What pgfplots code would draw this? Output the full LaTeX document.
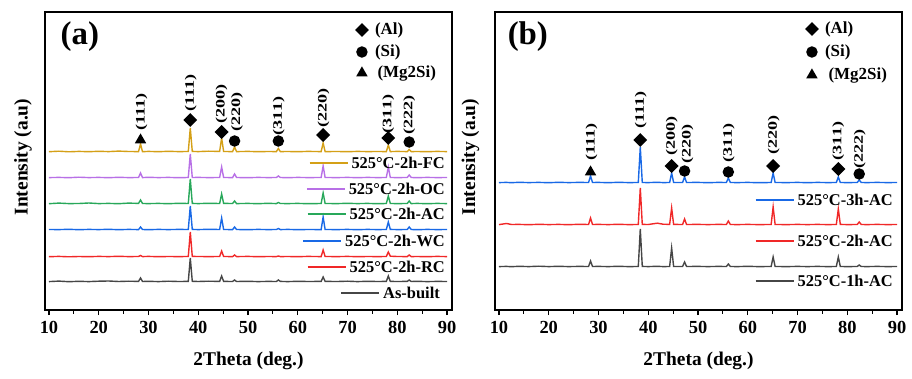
\documentclass[border=0pt]{standalone}
\usepackage{fontspec}
\setmainfont{Liberation Serif}
\usepackage{pgfplots}
\usepackage{pgfplotstable}
\usepackage{graphicx}
\pgfplotsset{compat=1.18}
\definecolor{cfc}{RGB}{212,160,23}
\definecolor{coc}{RGB}{184,112,230}
\definecolor{cac}{RGB}{40,168,90}
\definecolor{cwc}{RGB}{25,105,230}
\definecolor{crc}{RGB}{240,40,40}
\definecolor{cab}{RGB}{70,70,70}

\pgfplotstableread{
x     fc   oc   ac   wc   rc   ab
10    0.3  0.4  0.3  0.5  0.3  0.4
12    0.8  0.6  0.9  0.4  0.6  0.9
14    0.2  0.3  0.4  0.7  0.2  0.3
16    0.6  0.8  0.5  0.3  0.5  0.7
18    0.3  0.4  1.0  0.6  0.3  0.4
20    0.7  0.6  0.4  0.4  0.6  0.8
22    0.4  0.3  0.6  0.7  0.4  1.0
24    0.9  0.7  0.3  0.3  0.7  0.5
26    0.5  0.4  0.9  0.6  0.4  0.8
28.0  0.4  0.5  0.6  0.4  0.5  0.6
28.4  8.0  5.0  4.0  3.0  1.5  4.0
28.8  0.3  0.4  0.5  0.5  0.4  0.5
30    0.6  0.7  0.4  0.3  0.6  0.7
32    0.3  0.4  0.6  0.6  0.3  0.4
34    0.7  0.6  0.3  0.4  0.5  0.8
36    0.4  0.3  0.7  0.6  0.4  0.5
38.0  0.5  0.5  0.5  0.5  0.5  0.6
38.4  24   24   25   24   25   24
38.8  0.6  0.5  0.6  0.6  0.6  0.7
40    0.4  0.6  0.4  0.4  0.5  0.5
42    0.8  0.4  0.7  0.7  0.4  0.8
44.3  0.6  0.5  0.5  0.5  0.5  0.6
44.7  14   11   10   12   6    6
45.1  0.5  0.5  0.6  0.5  0.5  0.6
46.9  0.4  0.4  0.5  0.4  0.4  0.5
47.3  5.0  4.0  3.0  3.0  2.0  2.0
47.7  0.4  0.5  0.4  0.5  0.4  0.5
50    0.6  0.3  0.6  0.3  0.6  0.7
52    0.3  0.6  0.3  0.6  0.3  0.4
54    0.5  0.4  0.7  0.4  0.5  0.6
55.7  0.4  0.5  0.4  0.5  0.4  0.5
56.1  3.5  2.0  1.5  1.5  1.0  2.0
56.5  0.4  0.5  0.5  0.4  0.4  0.6
58    0.5  0.3  0.4  0.6  0.5  0.4
60    0.3  0.6  0.6  0.3  0.3  0.7
62    0.6  0.4  0.3  0.5  0.6  0.5
64.7  0.4  0.5  0.5  0.4  0.4  0.6
65.1  9    12   11   13   7    5
65.5  0.4  0.5  0.5  0.5  0.5  0.6
68    0.5  0.4  0.4  0.4  0.4  0.5
70    0.3  0.6  0.7  0.6  0.6  0.8
72    0.6  0.3  0.4  0.3  0.3  0.4
74    0.4  0.6  0.6  0.6  0.5  0.7
76    0.5  0.4  0.3  0.4  0.4  0.5
77.8  0.4  0.5  0.5  0.5  0.5  0.6
78.2  7    11   8    8    5    6
78.6  0.4  0.5  0.5  0.6  0.8  0.6
80    0.6  0.4  0.4  0.4  0.5  0.5
82.0  0.4  0.5  0.5  0.5  0.4  0.6
82.4  2.5  3.0  3.0  3.0  2.0  2.0
82.8  0.4  0.5  0.4  0.5  0.4  0.5
84    0.5  0.3  0.6  0.3  0.5  0.7
86    0.3  0.6  0.3  0.6  0.3  0.4
88    0.6  0.4  0.6  0.4  0.6  0.6
90    0.4  0.5  0.4  0.5  0.4  0.5
}\tabA

\pgfplotstableread{
x     b3   b2   b1
10    0.4  0.4  0.4
11.5  0.6  1.5  0.6
12.5  0.3  0.5  0.3
14    0.7  0.6  0.7
16    0.4  0.3  0.4
18    0.6  0.7  0.8
20    0.3  0.4  0.4
22    0.7  0.6  0.7
24    0.4  0.3  0.4
26    0.6  0.7  0.6
28.0  0.5  0.5  0.5
28.4  7    7    6
28.8  0.5  0.5  0.5
30    0.6  0.6  0.6
32    0.3  0.4  0.4
34    0.7  0.7  0.7
36    0.4  0.4  0.4
38.0  0.5  0.5  0.5
38.4  36   37   38
38.8  0.5  0.6  0.6
40    0.4  0.5  0.4
41.8  0.7  1.8  0.7
43    0.4  0.8  0.4
44.3  0.5  0.6  0.5
44.7  10   17   19
45.1  0.5  0.6  0.5
46.9  0.5  0.5  0.5
47.3  6    6    5
47.7  0.5  0.5  0.5
50    0.6  0.6  0.6
52    0.3  0.4  0.4
54    0.6  0.6  0.6
55.7  0.5  0.5  0.5
56.1  5    4    3
56.5  0.5  0.5  0.5
58    0.4  0.4  0.4
60    0.6  0.6  0.7
62    0.3  0.4  0.4
64.7  0.5  0.5  0.5
65.1  10   18   10
65.5  0.5  0.5  0.5
68    0.4  0.4  0.4
70    0.6  0.6  0.6
72    0.3  0.4  0.4
74    0.6  0.6  0.6
76    0.4  0.4  0.4
77.8  0.5  0.5  0.5
78.2  6    16   10
78.6  0.5  0.6  0.5
80    0.4  0.4  0.4
82.0  0.5  0.5  0.5
82.4  3    3    2
82.8  0.5  0.5  0.5
84    0.4  0.4  0.4
86    0.6  0.6  0.6
88    0.4  0.4  0.4
90    0.5  0.5  0.5
}\tabB

\pgfplotsset{
  xrdaxis/.style={
    width=407bp, height=298bp, scale only axis,
    xmin=9.2, xmax=91, ymin=0, ymax=298,
    xtick={10,20,...,90}, minor x tick num=1,
    xtick pos=bottom, tick align=outside,
    ytick=\empty,
    major tick length=5bp, minor tick length=3.5bp,
    every tick/.style={black, line width=1.2bp},
    axis line style={line width=1.5bp},
    tick label style={font=\fontsize{18.5}{18.5}\selectfont\bfseries},
    xticklabel style={yshift=-2.5bp},
    /pgf/number format/assume math mode=true,
    label style={font=\fontsize{19.5}{19.5}\selectfont\bfseries},
    xlabel={2Theta (deg.)},
    ylabel={Intensity (a.u)},
    xlabel style={at={(axis description cs:0.5,-0.172)}, anchor=center},
    clip=false,
    every axis plot/.append style={line width=1.4bp},
  },
}
\tikzset{
  pk/.style={rotate=90, font=\fontsize{13}{13}\selectfont\bfseries, inner sep=0pt},
  lg/.style={anchor=east, inner sep=0pt, font=\fontsize{16.5}{16.5}\selectfont\bfseries},
  mk/.style={anchor=west, inner sep=0pt, font=\fontsize{17}{17}\selectfont\bfseries},
}
\newcommand{\pl}[1]{\scalebox{1.4}[1]{#1}}
\newcommand{\ls}[1]{\textcolor{#1}{\rule[0.3em]{38bp}{1.5bp}}\hspace{4bp}}

\begin{document}
\begin{tikzpicture}
\useasboundingbox (0,0) rectangle (912bp,379bp);
% ---------------- (a)
\begin{axis}[xrdaxis, at={(45bp,69bp)}, anchor=south west,
  ylabel style={at={(axis description cs:-0.054,0.513)}, anchor=center}]
\addplot[cab, no marks] table[x=x, y expr=\thisrow{ab}+28] {\tabA};
\addplot[crc, no marks] table[x=x, y expr=\thisrow{rc}+53] {\tabA};
\addplot[cwc, no marks] table[x=x, y expr=\thisrow{wc}+80] {\tabA};
\addplot[cac, no marks] table[x=x, y expr=\thisrow{ac}+106] {\tabA};
\addplot[coc, no marks] table[x=x, y expr=\thisrow{oc}+132] {\tabA};
\addplot[cfc, no marks] table[x=x, y expr=\thisrow{fc}+158] {\tabA};
% phase markers
\addplot[only marks, mark=square*, mark size=4.2bp, mark options={rotate=45, black}]
  coordinates {(38.4,190) (44.7,178) (65.1,175) (78.2,172) (72.9,280)};
\addplot[only marks, mark=*, mark size=5bp, black]
  coordinates {(47.3,169) (56.1,169) (82.4,168) (72.9,258)};
\addplot[only marks, mark=triangle*, mark size=5.2bp, black]
  coordinates {(28.4,170) (72.9,237)};
\node[mk] at (axis cs:75.5,280) {(Al)};
\node[mk] at (axis cs:75.5,258) {(Si)};
\node[mk] at (axis cs:76.0,237) {(Mg2Si)};
% peak labels
\node[pk] at (axis cs:28.6,198) {\pl{(111)}};
\node[pk] at (axis cs:38.5,217) {\pl{(111)}};
\node[pk] at (axis cs:44.7,206) {\pl{(200)}};
\node[pk] at (axis cs:47.8,198) {\pl{(220)}};
\node[pk] at (axis cs:56.2,194) {\pl{(311)}};
\node[pk] at (axis cs:65.2,202) {\pl{(220)}};
\node[pk] at (axis cs:78.2,196) {\pl{(311)}};
\node[pk] at (axis cs:82.4,195) {\pl{(222)}};
% legend
\node[lg] at (axis cs:89.6,147) {\ls{cfc}525°C-2h-FC};
\node[lg] at (axis cs:89.6,121) {\ls{coc}525°C-2h-OC};
\node[lg] at (axis cs:89.6,96) {\ls{cac}525°C-2h-AC};
\node[lg] at (axis cs:89.6,69) {\ls{cwc}525°C-2h-WC};
\node[lg] at (axis cs:89.6,43) {\ls{crc}525°C-2h-RC};
\node[lg] at (axis cs:88.6,17) {\ls{cab}As-built};
\node[font=\fontsize{33}{33}\selectfont\bfseries, inner sep=0pt] at (axis cs:16.2,273) {(a)};
\end{axis}
% ---------------- (b)
\begin{axis}[xrdaxis, at={(495bp,69bp)}, anchor=south west,
  ylabel style={at={(axis description cs:-0.06,0.513)}, anchor=center}]
\addplot[cab, no marks] table[x=x, y expr=\thisrow{b1}+43] {\tabB};
\addplot[crc, no marks] table[x=x, y expr=\thisrow{b2}+85] {\tabB};
\addplot[cwc, no marks] table[x=x, y expr=\thisrow{b3}+127] {\tabB};
\addplot[only marks, mark=square*, mark size=4.2bp, mark options={rotate=45, black}]
  coordinates {(38.4,170) (44.7,144) (65.1,144) (78.2,141) (72.9,281)};
\addplot[only marks, mark=*, mark size=5bp, black]
  coordinates {(47.3,139) (56.1,138) (82.4,136) (72.9,258)};
\addplot[only marks, mark=triangle*, mark size=5.2bp, black]
  coordinates {(28.4,138) (72.9,235)};
\node[mk] at (axis cs:75.5,281) {(Al)};
\node[mk] at (axis cs:76.2,235) {(Mg2Si)};
\node[mk] at (axis cs:75.5,258) {(Si)};
\node[pk] at (axis cs:28.6,168) {\pl{(111)}};
\node[pk] at (axis cs:38.5,200) {\pl{(111)}};
\node[pk] at (axis cs:44.7,174) {\pl{(200)}};
\node[pk] at (axis cs:47.9,166) {\pl{(220)}};
\node[pk] at (axis cs:56.2,167) {\pl{(311)}};
\node[pk] at (axis cs:65.2,175) {\pl{(220)}};
\node[pk] at (axis cs:78.2,169) {\pl{(311)}};
\node[pk] at (axis cs:82.5,161) {\pl{(222)}};
\node[lg] at (axis cs:89.2,110) {\ls{cwc}525°C-3h-AC};
\node[lg] at (axis cs:89.2,69) {\ls{crc}525°C-2h-AC};
\node[lg] at (axis cs:89.2,29) {\ls{cab}525°C-1h-AC};
\node[font=\fontsize{33}{33}\selectfont\bfseries, inner sep=0pt] at (axis cs:15.8,273) {(b)};
\end{axis}
\end{tikzpicture}
\end{document}
